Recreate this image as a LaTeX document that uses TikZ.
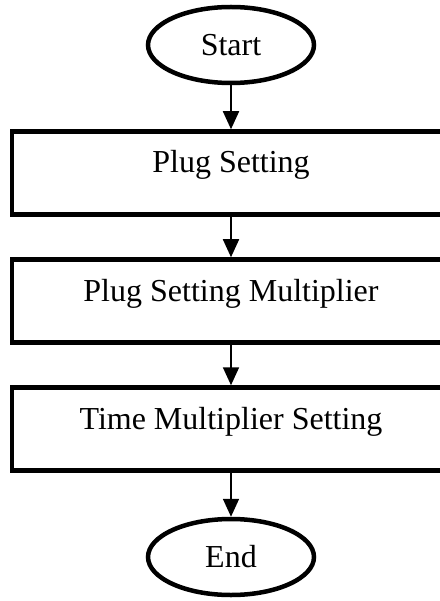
\documentclass[tikz,border=0pt]{standalone}
\usepackage{fontspec}
\setmainfont{Liberation Serif}
\usepackage{tikz}
\usetikzlibrary{arrows.meta,shapes}
\tikzstyle{terminal}=[draw, ellipse, line width=4.5pt, minimum width=166pt, minimum height=76pt]
\tikzstyle{process}=[draw, rectangle, line width=4.5pt, minimum width=438pt, inner sep=0pt, text height=41.5pt, text depth=41.5pt]
\tikzstyle{flow}=[-{Triangle[length=18pt, width=16pt]}, line width=1.8pt]

\begin{document}
\begin{tikzpicture}[node distance=128pt, font=\fontsize{32}{38}\selectfont]
    \useasboundingbox (0,0) rectangle (439pt,-601pt);
    \node (start) [terminal] at (231pt,-45pt) {Start};
    \node (ps) [process, below of=start] {Plug Setting};
    \node (psm) [process, below of=ps] {Plug Setting Multiplier};
    \node (tms) [process, below of=psm] {Time Multiplier Setting};
    \node (stop) [terminal, below of=tms] {End};
    %
    \draw [flow] (start) -- (ps);
    \draw [flow] (ps) -- (psm);
    \draw [flow] (psm) -- (tms);
    \draw [flow] (tms) -- (stop);
\end{tikzpicture}
\end{document}
